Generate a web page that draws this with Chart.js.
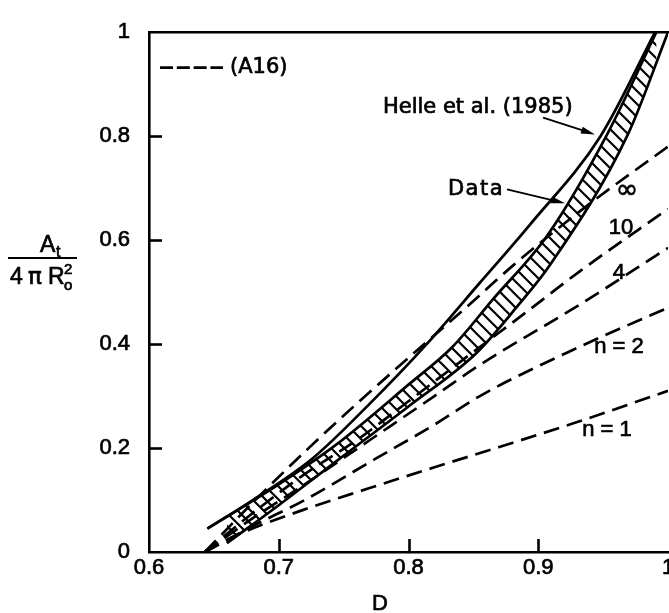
<!DOCTYPE html>
<html><head><meta charset="utf-8">
<script src="https://cdn.jsdelivr.net/npm/chart.js@4/dist/chart.umd.min.js"></script>
<style>
html,body{margin:0;padding:0;background:#fff;overflow:hidden;}
#wrap{width:669px;height:613px;overflow:hidden;position:relative;background:#fff;}
canvas{display:block;}
</style></head><body>
<div id="wrap"><canvas id="c" width="700" height="613" style="width:700px;height:613px"></canvas></div>
<script>
// ---- tick values / labels ----
const xTickValues = [0.6, 0.7, 0.8, 0.9, 1.0];
const xTickLabels = ['0.6', '0.7', '0.8', '0.9', '1'];
const yTickValues = [0, 0.2, 0.4, 0.6, 0.8, 1.0];
const yTickLabels = ['0', '0.2', '0.4', '0.6', '0.8', '1'];

// ---- hatched data band (upper and lower boundaries) ----
const bandUpperD = [0.645, 0.70, 0.744, 0.80, 0.834, 0.865, 0.907, 0.953, 0.991];
const bandUpperA = [0.045, 0.13, 0.206, 0.322, 0.395, 0.486, 0.609, 0.803, 1.0];
const bandLowerD = [0.66, 0.70, 0.744, 0.80, 0.852, 0.883, 0.909, 0.969, 1.0];
const bandLowerA = [0.017, 0.09, 0.174, 0.28, 0.382, 0.47, 0.552, 0.803, 1.0];

// ---- Helle et al. (1985) ----
const helleD = [0.645, 0.68, 0.726, 0.77, 0.814, 0.855, 0.893, 0.948, 0.99];
const helleA = [0.045, 0.10, 0.18, 0.285, 0.40, 0.518, 0.628, 0.80, 1.0];

// ---- (A16) curves ----
const nInfD = [0.643, 0.68, 0.721, 0.76, 0.808, 0.847, 0.88, 0.937, 1.0];
const nInfA = [0, 0.095, 0.195, 0.285, 0.391, 0.476, 0.55, 0.665, 0.78];
const n10D = [0.643, 0.68, 0.72, 0.76, 0.80, 0.85, 0.89, 0.932, 1.0];
const n10A = [0, 0.075, 0.15, 0.215, 0.29, 0.385, 0.46, 0.54, 0.66];
const n4D = [0.643, 0.68, 0.72, 0.77, 0.82, 0.855, 0.932, 1.0];
const n4A = [0, 0.065, 0.13, 0.215, 0.30, 0.36, 0.476, 0.585];
const n2D = [0.643, 0.68, 0.72, 0.775, 0.82, 0.855, 0.932, 1.0];
const n2A = [0, 0.05, 0.10, 0.18, 0.245, 0.30, 0.395, 0.47];
const n1D = [0.643, 0.67, 0.72, 0.77, 0.82, 0.87, 0.93, 1.0];
const n1A = [0, 0.035, 0.082, 0.123, 0.163, 0.202, 0.25, 0.31];

const pts = (xs, ys) => xs.map((v, i) => ({x: v, y: ys[i]}));

// hatch pattern
const pc = document.createElement('canvas');
pc.width = 13; pc.height = 13;
const pctx = pc.getContext('2d');
pctx.strokeStyle = '#000'; pctx.lineWidth = 2.2;
pctx.beginPath();
pctx.moveTo(-2, -2); pctx.lineTo(15, 15);
pctx.moveTo(-2, 11); pctx.lineTo(2, 15);
pctx.moveTo(11, -2); pctx.lineTo(15, 2);
pctx.stroke();
const hatch = document.createElement('canvas').getContext('2d').createPattern(pc, 'repeat');

const DASH = [16, 8];
const LW = 2.7;
const dashed = (data) => ({data, borderColor: '#000', borderWidth: LW, borderDash: DASH, pointRadius: 0, fill: false, cubicInterpolationMode: 'monotone'});

const annotations = [
  {text: 'Helle et al. (1985)', d: 0.7803, a: 0.8544, font: '21px "DejaVu Sans"', align: 'left'},
  {text: 'Data', d: 0.8304, a: 0.6975, font: '21px "DejaVu Sans"', align: 'left', spacing: '1.5px'},
  {text: '\u221E', d: 0.9684, a: 0.6938, font: '27px "DejaVu Sans"', align: 'center'},
  {text: '10', d: 0.9638, a: 0.6238, font: '22px "Liberation Sans"', align: 'center'},
  {text: '4', d: 0.9622, a: 0.5369, font: '22px "Liberation Sans"', align: 'center'},
  {text: 'n = 2', d: 0.9622, a: 0.3951, font: '22px "Liberation Sans"', align: 'center'},
  {text: 'n = 1', d: 0.953, a: 0.2344, font: '22px "Liberation Sans"', align: 'center'},
  {text: '(A16)', d: 0.6624, a: 0.932, font: '21px "DejaVu Sans"', align: 'left'}
];
const arrows = [
  {d0: 0.9037, a0: 0.8355, d1: 0.9437, a1: 0.8034},
  {d0: 0.8759, a0: 0.6975, d1: 0.9206, a1: 0.6711}
];

function boldText(ctx, s, px, py) {
  ctx.fillText(s, px, py);
  ctx.strokeText(s, px, py);
}

const decor = {
  id: 'decor',
  afterDraw(chart) {
    const {ctx, chartArea: ca, scales: {x, y}} = chart;
    ctx.save();
    ctx.strokeStyle = '#000'; ctx.fillStyle = '#000';
    ctx.lineWidth = 2.6; ctx.setLineDash([]);
    // top frame
    ctx.beginPath(); ctx.moveTo(ca.left - 1, ca.top); ctx.lineTo(ca.right + 40, ca.top); ctx.stroke();
    // inward ticks
    yTickValues.forEach(v => {
      if (v <= 0 || v >= 1) return;
      const py = Math.round(y.getPixelForValue(v)) + 0.5;
      ctx.beginPath(); ctx.moveTo(ca.left, py); ctx.lineTo(ca.left + 13, py); ctx.stroke();
    });
    xTickValues.forEach(v => {
      if (v <= 0.6 || v >= 1) return;
      const px = Math.round(x.getPixelForValue(v)) + 0.5;
      ctx.beginPath(); ctx.moveTo(px, ca.bottom); ctx.lineTo(px, ca.bottom - 13); ctx.stroke();
    });
    // legend dashes
    ctx.lineWidth = LW; ctx.setLineDash([13, 3.8]);
    const ly = y.getPixelForValue(0.932);
    ctx.beginPath(); ctx.moveTo(x.getPixelForValue(0.6085), ly); ctx.lineTo(x.getPixelForValue(0.657), ly); ctx.stroke();
    ctx.setLineDash([]);
    // annotations
    ctx.textBaseline = 'middle';
    ctx.lineWidth = 0.7;
    annotations.forEach(t => {
      ctx.font = t.font; ctx.textAlign = t.align;
      ctx.letterSpacing = t.spacing || '0px';
      boldText(ctx, t.text, x.getPixelForValue(t.d), y.getPixelForValue(t.a));
    });
    ctx.letterSpacing = '0px';
    // arrows
    ctx.lineWidth = 1.9;
    arrows.forEach(ar => {
      const x0 = x.getPixelForValue(ar.d0), y0 = y.getPixelForValue(ar.a0);
      const x1 = x.getPixelForValue(ar.d1), y1 = y.getPixelForValue(ar.a1);
      const ang = Math.atan2(y1 - y0, x1 - x0);
      const L = 14, W = 3.5;
      ctx.beginPath(); ctx.moveTo(x0, y0); ctx.lineTo(x1 - L * Math.cos(ang) * 0.8, y1 - L * Math.sin(ang) * 0.8); ctx.stroke();
      ctx.beginPath();
      ctx.moveTo(x1, y1);
      ctx.lineTo(x1 - L * Math.cos(ang) - W * Math.sin(ang), y1 - L * Math.sin(ang) + W * Math.cos(ang));
      ctx.lineTo(x1 - L * Math.cos(ang) + W * Math.sin(ang), y1 - L * Math.sin(ang) - W * Math.cos(ang));
      ctx.closePath(); ctx.fill();
    });
    ctx.lineWidth = 0.7;
    // x title
    ctx.font = '22px "Liberation Sans"'; ctx.textAlign = 'center';
    boldText(ctx, 'D', ca.left + 231, ca.bottom + 52);
    // y title fraction
    ctx.textAlign = 'left'; ctx.textBaseline = 'alphabetic';
    ctx.font = '23px "Liberation Sans"';
    boldText(ctx, 'A', 40, 252);
    ctx.font = '16px "Liberation Sans"';
    boldText(ctx, 't', 56, 257);
    ctx.lineWidth = 1.8;
    ctx.beginPath(); ctx.moveTo(8, 258); ctx.lineTo(77, 258); ctx.stroke();
    ctx.lineWidth = 0.7;
    ctx.font = '23px "Liberation Sans"';
    boldText(ctx, '4', 10, 284);
    ctx.font = '23px "DejaVu Sans"';
    boldText(ctx, '\u03C0', 28, 284);
    ctx.font = '23px "Liberation Sans"';
    boldText(ctx, 'R', 48, 284);
    ctx.font = '15px "Liberation Sans"';
    boldText(ctx, '2', 64, 274);
    boldText(ctx, 'o', 64, 290);
    ctx.restore();
  }
};

Chart.defaults.font.family = '"Liberation Sans", Arial, sans-serif';
Chart.defaults.color = '#000';

new Chart(document.getElementById('c'), {
  type: 'line',
  data: {
    datasets: [
      {data: pts(bandUpperD, bandUpperA), borderColor: '#000', borderWidth: LW, pointRadius: 0, fill: false, cubicInterpolationMode: 'monotone'},
      {data: pts(bandLowerD, bandLowerA), borderColor: '#000', borderWidth: LW, pointRadius: 0, fill: '-1', backgroundColor: hatch, cubicInterpolationMode: 'monotone'},
      {data: pts(helleD, helleA), borderColor: '#000', borderWidth: LW, pointRadius: 0, fill: false, cubicInterpolationMode: 'monotone'},
      dashed(pts(nInfD, nInfA)),
      dashed(pts(n10D, n10A)),
      dashed(pts(n4D, n4A)),
      dashed(pts(n2D, n2A)),
      dashed(pts(n1D, n1A))
    ]
  },
  options: {
    responsive: false,
    devicePixelRatio: 1,
    animation: false,
    events: [],
    layout: {padding: {top: 23, right: 32, left: 0, bottom: 0}},
    plugins: {legend: {display: false}, tooltip: {enabled: false}},
    scales: {
      x: {
        type: 'linear', min: 0.6, max: 1.0,
        afterBuildTicks: s => { s.ticks = xTickValues.map(v => ({value: v})); },
        afterFit: s => { s.height = 61; },
        grid: {display: false, drawTicks: false, tickLength: 0},
        border: {display: true, width: 2.6, color: '#000'},
        ticks: {padding: 3, maxRotation: 0, autoSkip: false, font: {size: 22}, color: '#000',
          textStrokeColor: '#000', textStrokeWidth: 0.7,
          callback: (v, i) => xTickLabels[i]}
      },
      y: {
        type: 'linear', min: 0, max: 1.0,
        afterBuildTicks: s => { s.ticks = yTickValues.map(v => ({value: v})); },
        afterFit: s => { s.width = 149; },
        grid: {display: false, drawTicks: false, tickLength: 0},
        border: {display: true, width: 2.6, color: '#000'},
        ticks: {padding: 19, autoSkip: false, font: {size: 22}, color: '#000',
          textStrokeColor: '#000', textStrokeWidth: 0.7,
          callback: (v, i) => yTickLabels[i]}
      }
    }
  },
  plugins: [decor]
});
</script>
</body></html>
